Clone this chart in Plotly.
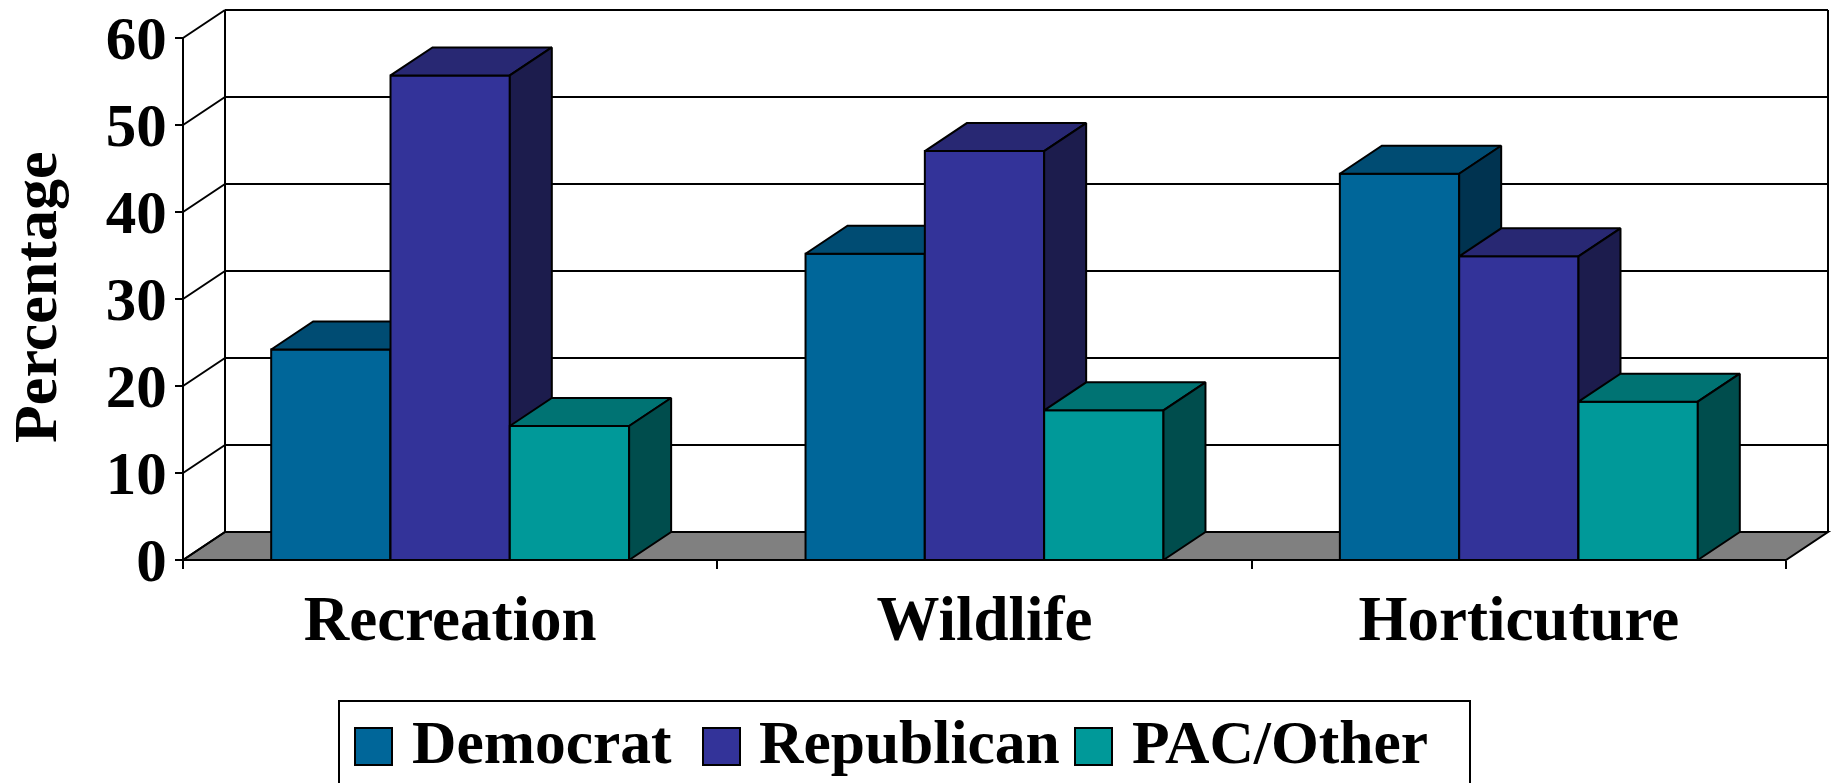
import plotly.graph_objects as go

# ---------------- data ----------------
CATEGORIES = ["Recreation", "Wildlife", "Horticuture"]
SERIES = ["Democrat", "Republican", "PAC/Other"]
DEMOCRAT = [24.2, 35.2, 44.4]
REPUBLICAN = [55.7, 47.0, 34.9]
PAC_OTHER = [15.4, 17.2, 18.2]
Y_TICKS = [0, 10, 20, 30, 40, 50, 60]
Y_TITLE = "Percentage"
VALUES = [DEMOCRAT, REPUBLICAN, PAC_OTHER]

# ---------------- style ----------------
FRONT = ["#006699", "#333399", "#009999"]
TOP = ["#004C73", "#282873", "#007373"]
SIDE = ["#003350", "#1C1C4D", "#004D4D"]
FLOOR = "#808080"
FONT = "Liberation Serif, Times New Roman, serif"

W, H = 1835, 783
X0_PX, X1_PX = 183, 1786      # front plane left / right
Y0_PX, YTOP_PX = 560, 38       # value 0 / value 60 on the front axis
DEPTH_X_PX, DEPTH_Y_PX = 42, 28
PAD_L, PAD_R, PAD_B, PAD_T = 8, 5, 8, 7

ncat = len(CATEGORIES)
ymax = Y_TICKS[-1]
kx = (X1_PX - X0_PX) / ncat
ky = (Y0_PX - YTOP_PX) / ymax
dx = DEPTH_X_PX / kx
dy = DEPTH_Y_PX / ky
BW = 0.2233                   # bar width in category units

xlo, xhi = -0.5, ncat - 0.5
x_range = [xlo - PAD_L / kx, xhi + dx + PAD_R / kx]
y_range = [-PAD_B / ky, ymax + dy + PAD_T / ky]

plot_left = X0_PX - PAD_L
plot_right = X1_PX + DEPTH_X_PX + PAD_R
plot_bottom = Y0_PX + PAD_B
plot_top = Y0_PX - (ymax + dy) * ky - PAD_T
pw = plot_right - plot_left
ph = plot_bottom - plot_top


def px2paper_x(px):
    return (px - plot_left) / pw


def px2paper_y(py):
    return (plot_bottom - py) / ph


fig = go.Figure()

nser = len(SERIES)
for j, (name, vals) in enumerate(zip(SERIES, VALUES)):
    xa = "x" if j == 0 else f"x{j + 1}"
    ya = "y" if j == 0 else f"y{j + 1}"
    off = -nser / 2 * BW + j * BW
    fig.add_trace(go.Bar(
        x=list(range(ncat)), y=vals, width=BW, offset=off, name=name,
        marker=dict(color=FRONT[j], line=dict(color="black", width=2)),
        showlegend=False, xaxis=xa, yaxis=ya,
    ))
    tx, ty, sx, sy = [], [], [], []
    for i, h in enumerate(vals):
        xl = i + off
        xr = xl + BW
        tx += [xl, xr, xr + dx, xl + dx, xl, None]
        ty += [h, h, h + dy, h + dy, h, None]
        sx += [xr, xr + dx, xr + dx, xr, xr, None]
        sy += [0, dy, h + dy, h, 0, None]
    fig.add_trace(go.Scatter(x=tx, y=ty, mode="lines", fill="toself",
                             fillcolor=TOP[j], line=dict(color="black", width=2),
                             hoverinfo="skip", showlegend=False, xaxis=xa, yaxis=ya))
    fig.add_trace(go.Scatter(x=sx, y=sy, mode="lines", fill="toself",
                             fillcolor=SIDE[j], line=dict(color="black", width=2),
                             hoverinfo="skip", showlegend=False, xaxis=xa, yaxis=ya))

# ---------------- walls, floor, gridlines ----------------
shapes = []
line = dict(color="black", width=2)
shapes.append(dict(type="path", xref="x", yref="y", layer="below",
                   path=f"M {xlo},0 L {xlo + dx},{dy} L {xhi + dx},{dy} L {xhi},0 Z",
                   fillcolor=FLOOR, line=line))
for v in Y_TICKS:
    shapes.append(dict(type="line", xref="x", yref="y", layer="below",
                       x0=xlo + dx, y0=v + dy, x1=xhi + dx, y1=v + dy, line=line))
    shapes.append(dict(type="line", xref="x", yref="y", layer="below",
                       x0=xlo, y0=v, x1=xlo + dx, y1=v + dy, line=line))
for xv in (xlo + dx, xhi + dx):
    shapes.append(dict(type="line", xref="x", yref="y", layer="below",
                       x0=xv, y0=dy, x1=xv, y1=ymax + dy, line=line))
shapes.append(dict(type="line", xref="x", yref="y", layer="below",
                   x0=xlo, y0=0, x1=xlo, y1=ymax, line=line))

# ---------------- legend (drawn manually for large swatches) ----------------
LEG_BOX = (339, 701, 1470, 800)
SW_LEFT = [355, 703, 1075]
SW_SIZE = 37
SW_TOP = 728
TXT_LEFT = [410, 757, 1130]
TXT_MID = 742
annotations = []
shapes.append(dict(type="rect", xref="paper", yref="paper",
                   x0=px2paper_x(LEG_BOX[0]), x1=px2paper_x(LEG_BOX[2]),
                   y0=px2paper_y(LEG_BOX[3]), y1=px2paper_y(LEG_BOX[1]),
                   line=dict(color="black", width=2), fillcolor="white", layer="above"))
for j, name in enumerate(SERIES):
    shapes.append(dict(type="rect", xref="paper", yref="paper",
                       x0=px2paper_x(SW_LEFT[j]), x1=px2paper_x(SW_LEFT[j] + SW_SIZE),
                       y0=px2paper_y(SW_TOP + SW_SIZE), y1=px2paper_y(SW_TOP),
                       fillcolor=FRONT[j], line=dict(color="black", width=2), layer="above"))
    annotations.append(dict(xref="paper", yref="paper", x=px2paper_x(TXT_LEFT[j]),
                            y=px2paper_y(TXT_MID), xanchor="left", yanchor="middle",
                            text=name, showarrow=False,
                            font=dict(family=FONT, size=61.5, color="black", weight="bold")))

# y-axis title (placed as rotated text)
annotations.append(dict(xref="paper", yref="paper", x=px2paper_x(35), y=px2paper_y(298),
                        xanchor="center", yanchor="middle", textangle=-90,
                        text=Y_TITLE, showarrow=False,
                        font=dict(family=FONT, size=62, color="black", weight="bold")))

fig.update_layout(
    width=W, height=H,
    margin=dict(l=plot_left, r=W - plot_right, t=plot_top, b=H - plot_bottom, autoexpand=False),
    paper_bgcolor="white", plot_bgcolor="white",
    barmode="overlay",
    font=dict(family=FONT, color="black", weight="bold"),
    shapes=shapes, annotations=annotations,
    xaxis=dict(domain=[0, 1], range=x_range, anchor="free", position=px2paper_y(Y0_PX),
               tickmode="array", tickvals=list(range(ncat)), ticktext=CATEGORIES,
               ticks="outside", ticklen=3, tickcolor="rgba(0,0,0,0)",
               tickfont=dict(family=FONT, size=63, color="black", weight="bold"),
               showline=False, showgrid=False, zeroline=False, fixedrange=True,
               minor=dict(tickmode="array", tickvals=[i - 0.5 for i in range(ncat + 1)],
                          ticks="outside", ticklen=8, tickwidth=2, tickcolor="black",
                          showgrid=False)),
    yaxis=dict(domain=[0, 1], range=y_range, anchor="free", position=px2paper_x(X0_PX),
               tickmode="array", tickvals=Y_TICKS, ticks="outside", ticklen=8,
               tickwidth=2, tickcolor="black", ticklabelstandoff=-4,
               tickfont=dict(family=FONT, size=61, color="black", weight="bold"),
               showline=False, showgrid=False, zeroline=False, fixedrange=True),
)
for j in range(1, nser):
    fig.update_layout(**{
        f"xaxis{j + 1}": dict(overlaying="x", range=x_range, visible=False,
                              anchor=f"y{j + 1}", fixedrange=True),
        f"yaxis{j + 1}": dict(overlaying="y", range=y_range, visible=False,
                              anchor=f"x{j + 1}", fixedrange=True),
    })

fig.write_html("out.html")
